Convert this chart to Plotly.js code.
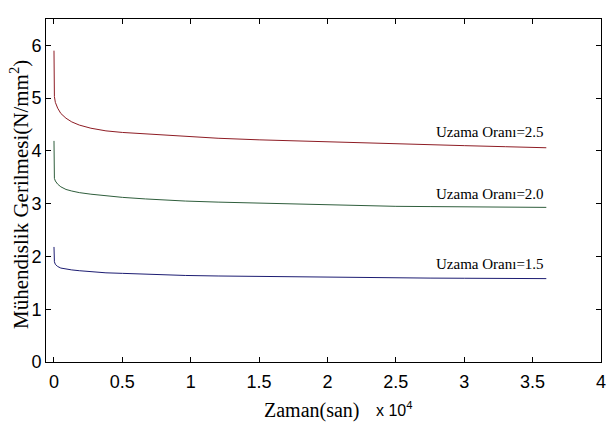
<!DOCTYPE html>
<html>
<head>
<meta charset="utf-8">
<script src="https://cdn.plot.ly/plotly-3.0.1.min.js"></script>
<style>html,body{margin:0;padding:0;background:#fff;}#chart{width:609px;height:425px;}</style>
</head>
<body>
<div id="chart"></div>
<script>
// time in seconds
var timeSec = [0, 30, 100, 270, 500, 876, 1300, 1850, 2700, 3800, 5000, 6700, 8000, 9600, 12000, 15000, 17500, 20000, 22500, 25000, 27500, 30000, 33000, 36000];
var stress25 = [5.90, 5.03, 4.92, 4.81, 4.71, 4.62, 4.55, 4.49, 4.43, 4.38, 4.35, 4.32, 4.30, 4.27, 4.24, 4.21, 4.19, 4.17, 4.15, 4.13, 4.11, 4.10, 4.08, 4.06];
var stress20 = [4.19, 3.48, 3.43, 3.37, 3.32, 3.27, 3.24, 3.21, 3.18, 3.15, 3.12, 3.09, 3.07, 3.05, 3.03, 3.01, 2.99, 2.975, 2.96, 2.95, 2.945, 2.94, 2.935, 2.93];
var stress15 = [2.18, 1.90, 1.85, 1.81, 1.78, 1.76, 1.745, 1.73, 1.71, 1.69, 1.68, 1.66, 1.65, 1.64, 1.63, 1.62, 1.615, 1.61, 1.60, 1.595, 1.59, 1.587, 1.584, 1.58];
var seriesLabels = ['Uzama Oranı=2.5', 'Uzama Oranı=2.0', 'Uzama Oranı=1.5'];
var labelY = [4.35, 3.19, 1.85];
var xTickVals = [0, 5000, 10000, 15000, 20000, 25000, 30000, 35000, 40000];
var xTickText = ['0', '0.5', '1', '1.5', '2', '2.5', '3', '3.5', '4'];
var yTickVals = [0, 1, 2, 3, 4, 5, 6];

var colors = ['#8e1c24', '#2f5e3c', '#1c1c72'];
var series = [stress25, stress20, stress15];
var traces = series.map(function (s, i) {
  return {x: timeSec, y: s, type: 'scatter', mode: 'lines',
          line: {color: colors[i], width: 1}, hoverinfo: 'none', showlegend: false};
});

var tickFont = {family: 'Liberation Sans', size: 18, color: '#000'};
var serif = 'Liberation Serif';

var annotations = seriesLabels.map(function (t, i) {
  return {x: 36000, y: labelY[i], xref: 'x', yref: 'y', text: t, showarrow: false,
          xanchor: 'right', yanchor: 'middle', font: {family: serif, size: 15, color: '#000'}};
});
annotations.push({x: 312, y: 410, xref: 'paper', yref: 'paper', text: 'Zaman(san)', showarrow: false,
  xanchor: 'center', yanchor: 'middle', font: {family: serif, size: 20, color: '#000'}});
annotations.push({x: 374, y: 409, xref: 'paper', yref: 'paper', text: 'x 10<sup>4</sup>', showarrow: false,
  xanchor: 'left', yanchor: 'middle', font: {family: tickFont.family, size: 16, color: '#000'}});
annotations.push({x: 19, y: 195, xref: 'paper', yref: 'paper', text: 'Mühendislik Gerilmesi(N/mm<sup>2</sup>)', showarrow: false,
  textangle: -90, xanchor: 'center', yanchor: 'middle', font: {family: serif, size: 21, color: '#000'}});

// convert pixel-placed paper annotations to paper fractions
var L = 46, R = 8, T = 19, B = 63, W = 609, H = 425;
annotations.forEach(function (a) {
  if (a.xref === 'paper') {
    a.x = (a.x - L) / (W - L - R);
    a.y = (H - B - a.y) / (H - T - B);
  }
});

var layout = {
  width: W, height: H,
  margin: {l: L, r: R, t: T, b: B, pad: 0},
  paper_bgcolor: '#fff', plot_bgcolor: '#fff',
  xaxis: {range: [-584, 40000], tickvals: xTickVals, ticktext: xTickText, ticks: 'inside', ticklen: 5,
          tickcolor: '#000', showline: true, linecolor: '#000', linewidth: 1, mirror: 'ticks',
          showgrid: false, zeroline: false, tickfont: tickFont, ticklabelstandoff: 3},
  yaxis: {range: [0, 6.5], tickvals: yTickVals, ticks: 'inside', ticklen: 5,
          tickcolor: '#000', showline: true, linecolor: '#000', linewidth: 1, mirror: 'ticks',
          showgrid: false, zeroline: false, tickfont: tickFont, ticklabelstandoff: 0},
  annotations: annotations
};
Plotly.newPlot('chart', traces, layout, {staticPlot: true, displayModeBar: false});
</script>
</body>
</html>
